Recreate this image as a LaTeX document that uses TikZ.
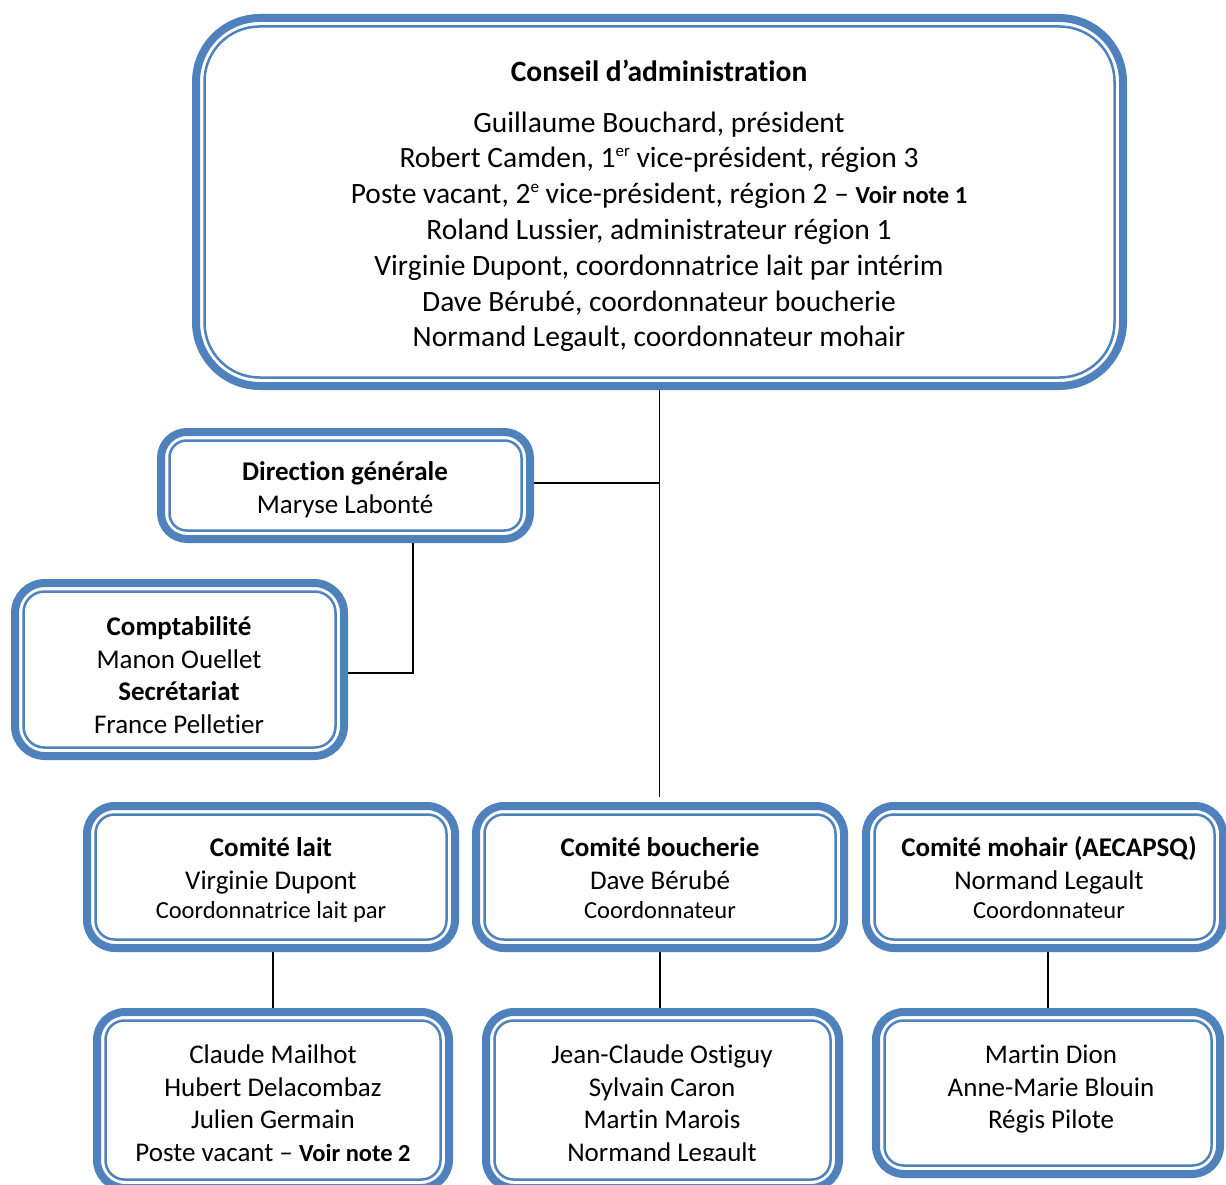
\documentclass[tikz,border=0pt]{standalone}
\usepackage{fontspec}
\setmainfont{Carlito}[Ligatures=NoCommon]
\usetikzlibrary{backgrounds,calc}
\definecolor{accent}{HTML}{4F81BD}
\tikzset{
  bx/.style={draw=accent, line width=8pt, fill=white, outer sep=0pt, inner sep=0pt},
  inl/.style={draw=accent, line width=2.5pt},
  conn/.style={draw=black, line width=1.6pt},
  txt/.style={align=center, anchor=base, inner sep=0pt, text=black},
  big/.style={font=\fontsize{29.5}{35.8}\selectfont},
  mid/.style={font=\fontsize{27}{32.6}\selectfont},
  sml/.style={font=\fontsize{24.5}{30}\selectfont},
}
\newcommand\obox[6]{%
  \node[bx, rounded corners=#6pt, minimum width={(#4-#2-8)*1pt}, minimum height={(#5-#3-8)*1pt}] (#1) at ({(#2+#4)/2},{(#3+#5)/2}) {};
  \draw[inl, rounded corners={(#6-9)*1pt}] ([shift={(8.5,8.5)}]#1.north west) rectangle ([shift={(-8.5,-8.5)}]#1.south east);
}
\newcommand\supr[1]{\raisebox{0.38em}{\fontsize{17}{17}\selectfont #1}}
\begin{document}
\begin{tikzpicture}[x=1pt,y=-1pt]
\clip (0,0) rectangle (1226,1185);
% boxes
\obox{top}{192}{14}{1127}{390}{64}
\obox{dir}{157}{428}{534}{543}{26}
\obox{compta}{11}{579}{348}{760}{30}
\obox{lait}{83}{802}{459}{952}{28}
\obox{bouch}{472}{802}{848}{952}{28}
\obox{moh}{862}{802}{1227}{952}{28}
\obox{lmem}{93}{1008}{453}{1192}{28}
\obox{bmem}{482}{1008}{843}{1192}{28}
\obox{mmem}{872}{1008}{1224}{1178}{28}
% connectors
\begin{scope}[on background layer]
  \fill[white] (0,0) rectangle (1226,1185);
  \draw[conn, shorten >=9pt] (top.south) -- (top.south |- bouch.north);
  \draw[conn] ([yshift=2.5]dir.east) -- ([yshift=2.5]dir.east -| top.south);
  \coordinate (dk) at (413,673);
  \draw[conn] (dk |- dir.south) -- (dk) -- (dk -| compta.east);
  \draw[conn] (lait.south -| lmem.north) -- (lmem.north);
  \draw[conn] (bouch.south) -- (bouch.south |- bmem.north);
  \draw[conn] (mmem.north |- moh.south) -- (mmem.north);
\end{scope}
% texts (anchor = baseline of last line)
\node[txt,big] (toptxt) at (659,346.8) {\textbf{Conseil d’administration}\\[15pt]
  Guillaume Bouchard, président\\
  Robert Camden, 1\supr{er} vice-président, région 3\\
  Poste vacant, 2\supr{e} vice-président, région 2 – {\fontsize{24.5}{30}\selectfont\bfseries Voir note 1}\\
  Roland Lussier, administrateur région 1\\
  Virginie Dupont, coordonnatrice lait par intérim\\
  Dave Bérubé, coordonnateur boucherie\\
  Normand Legault, coordonnateur mohair};
\node[txt,mid] (dirtxt) at (345,513.1) {\textbf{Direction générale}\\Maryse Labonté};
\node[txt,mid] (comptatxt) at (179,733.3) {\textbf{Comptabilité}\\Manon Ouellet\\\textbf{Secrétariat}\\France Pelletier};
\node[txt,mid] (laittxt) at (271,889.1) {\textbf{Comité lait}\\Virginie Dupont};
\node[txt,sml] (laitsub) at (271,918) {Coordonnatrice lait par};
\node[txt,mid] (bouchtxt) at (660,889.1) {\textbf{Comité boucherie}\\Dave Bérubé};
\node[txt,sml] (bouchsub) at (660,918) {Coordonnateur};
\node[txt,mid] (mohtxt) at (1049,889.1) {\textbf{Comité mohair (AECAPSQ)}\\Normand Legault};
\node[txt,sml] (mohsub) at (1049,918) {Coordonnateur};
\node[txt,mid] (lmemtxt) at (273,1161.3) {Claude Mailhot\\Hubert Delacombaz\\Julien Germain\\Poste vacant – {\fontsize{24.5}{30}\selectfont\bfseries Voir note 2}};
\begin{scope}
  \clip (482,1010) rectangle (843,1160);
  \node[txt,mid] (bmemtxt) at (662,1161.3) {Jean-Claude Ostiguy\\Sylvain Caron\\Martin Marois\\Normand Legault};
\end{scope}
\node[txt,mid] (mmemtxt) at (1051,1128.7) {Martin Dion\\Anne-Marie Blouin\\Régis Pilote};
\end{tikzpicture}
\end{document}
